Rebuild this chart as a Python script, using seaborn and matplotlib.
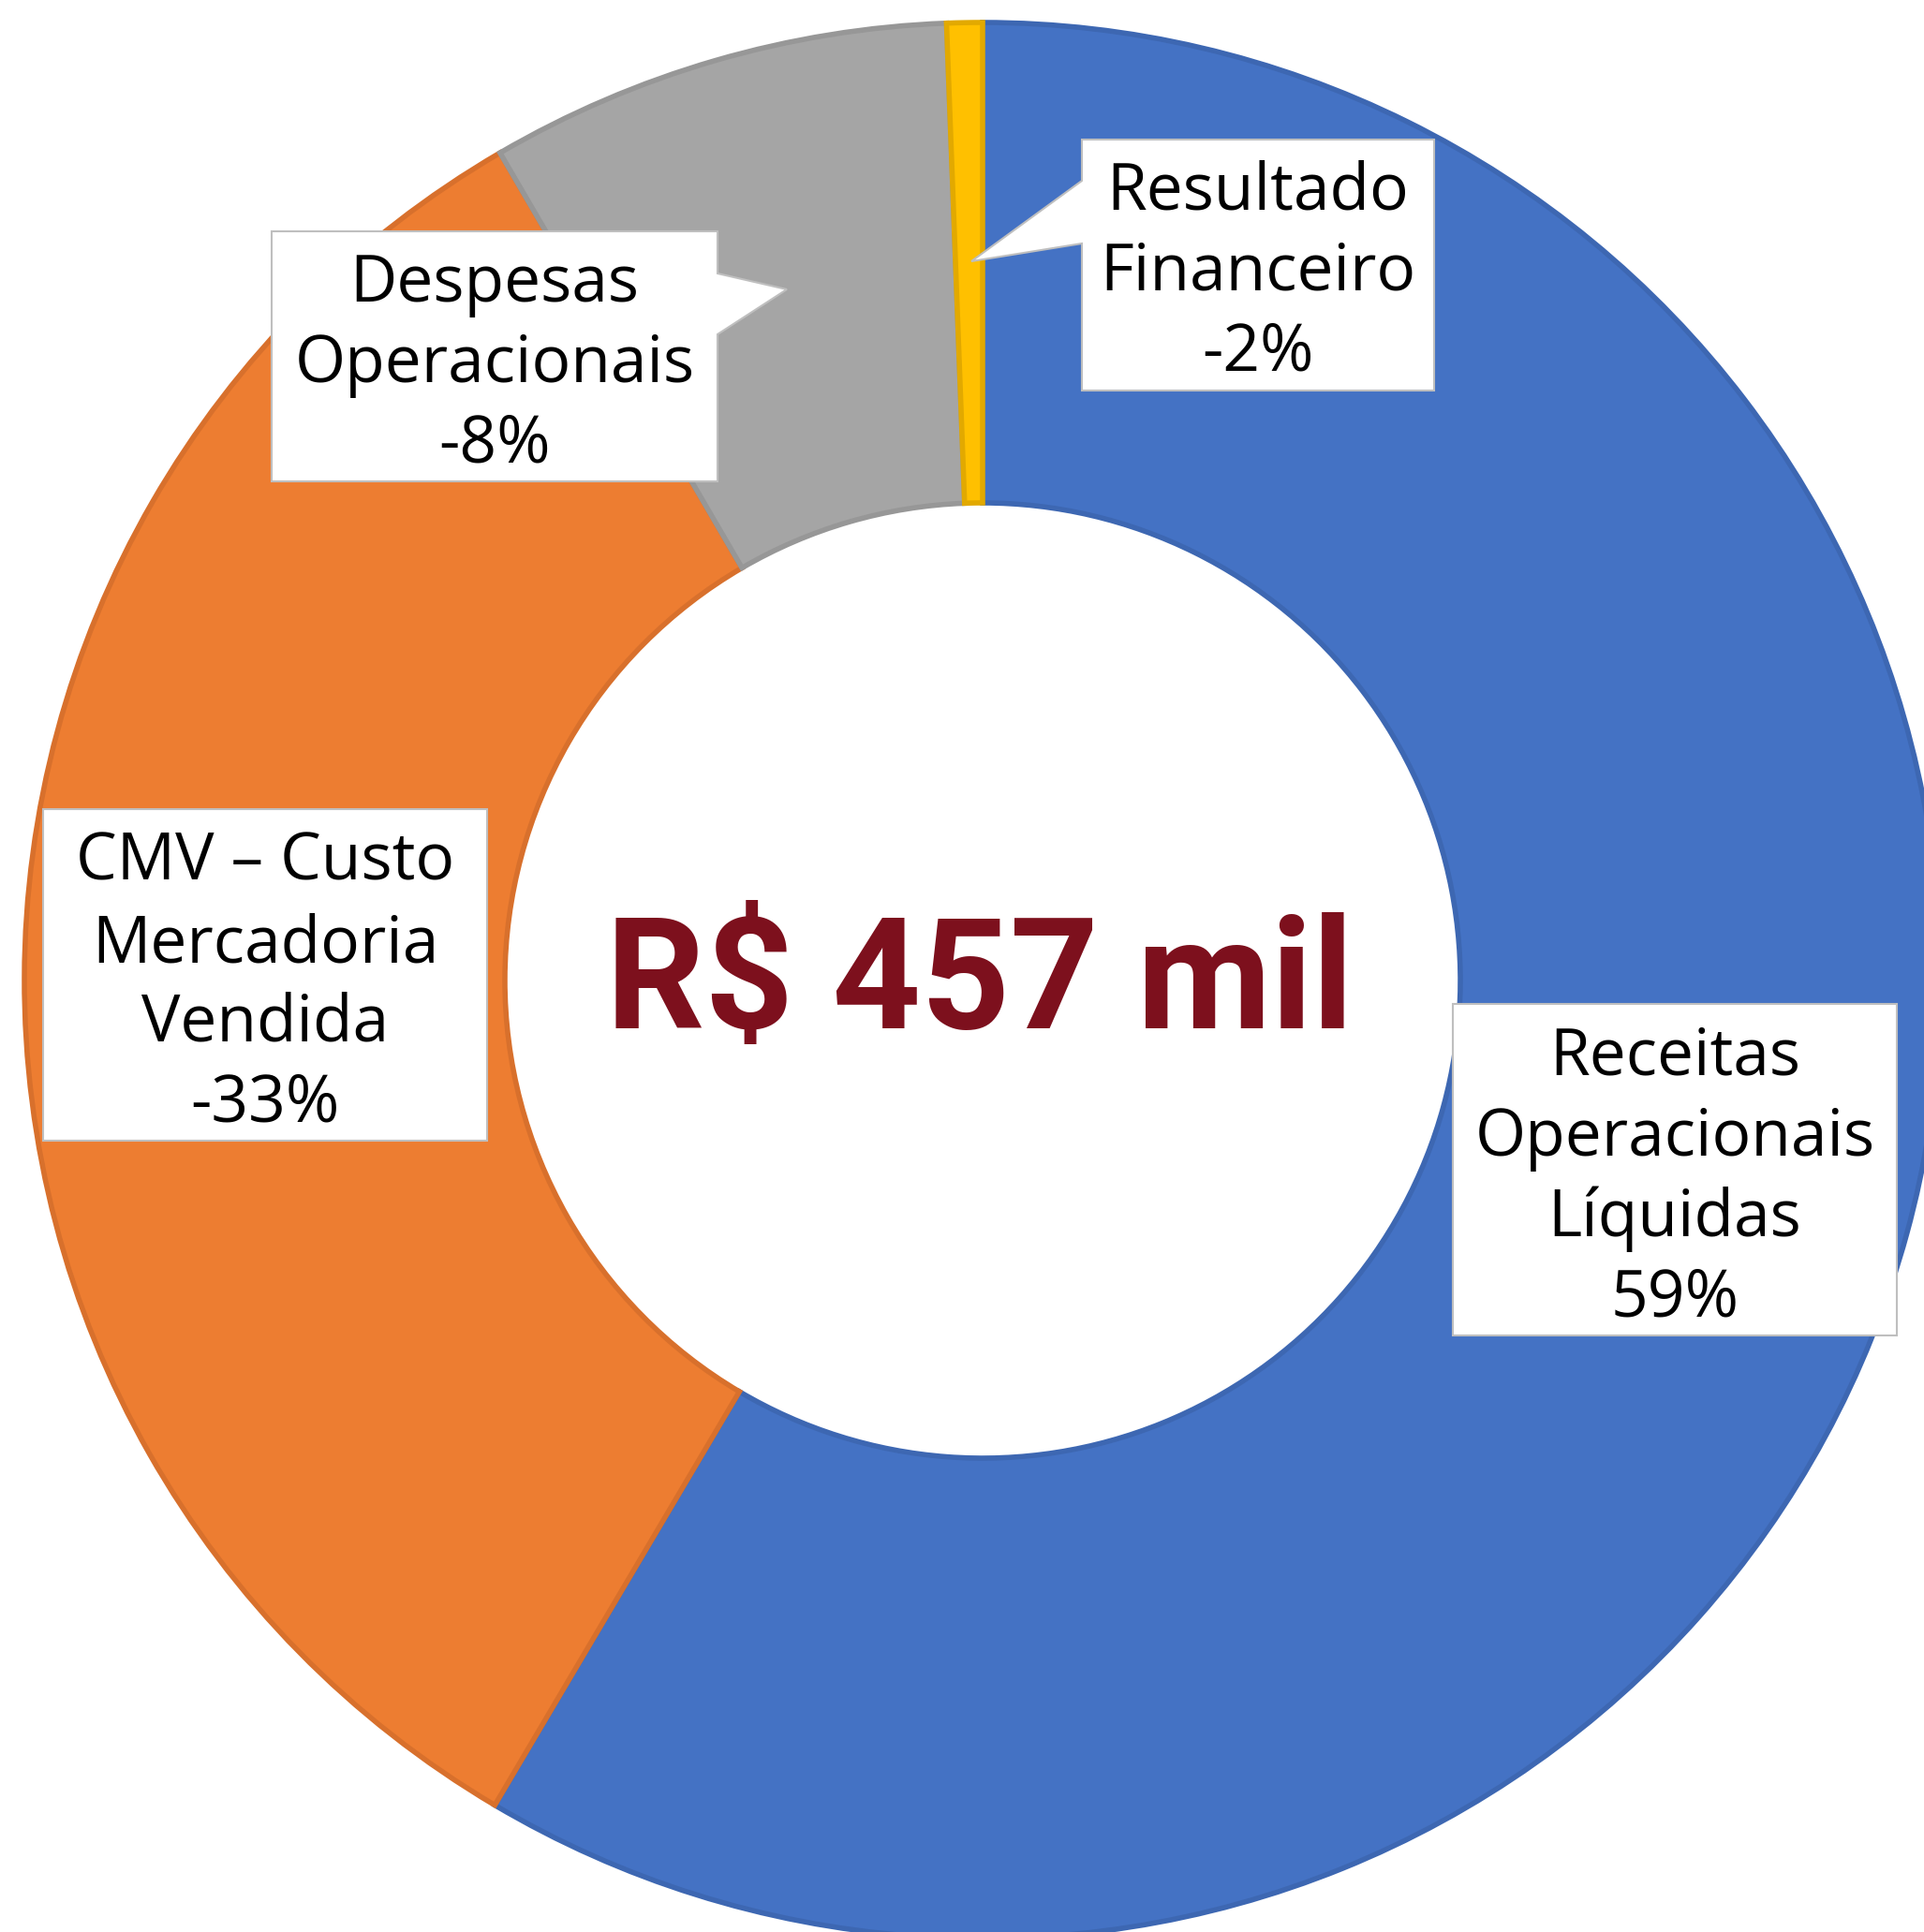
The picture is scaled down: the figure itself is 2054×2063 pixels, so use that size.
import matplotlib
matplotlib.use("Agg")
import matplotlib.pyplot as plt
from matplotlib.patches import Polygon
import seaborn as sns

# Donut data (wedge sizes) and the printed labels
categories = ["Receitas Operacionais Líquidas", "CMV – Custo Mercadoria Vendida",
              "Despesas Operacionais", "Resultado Financeiro"]
shares = [58.5, 33.1, 7.8, 0.6]
pct_labels = ["59%", "-33%", "-8%", "-2%"]
label_lines = [["Receitas", "Operacionais", "Líquidas"],
               ["CMV – Custo", "Mercadoria", "Vendida"],
               ["Despesas", "Operacionais"],
               ["Resultado", "Financeiro"]]
total_label = "R$ 457 mil"

colors = ["#4472C4", "#ED7D31", "#A5A5A5", "#FFC000"]
edge_colors = ["#3D67B2", "#D8702C", "#979797", "#E2A900"]

sns.set_theme(style="white")
plt.rcParams["font.family"] = ["Open Sans", "DejaVu Sans"]

# work in image pixels (y down)
W, H = 2054, 2063
fig = plt.figure(figsize=(W / 100, H / 100), dpi=100)
ax = fig.add_axes([0, 0, 1, 1])

wedges, _ = ax.pie(shares, colors=colors, startangle=-90, counterclock=True,
                   radius=1023, center=(1049, 1047),
                   wedgeprops=dict(width=513, linewidth=4))
for w, ec in zip(wedges, edge_colors):
    w.set_edgecolor(ec)

ax.set_xlim(0, W)
ax.set_ylim(H, 0)
ax.set_aspect("auto")
ax.axis("off")

# label boxes: (left, top, right, bottom), line baselines, optional callout pointer
layout = [
    dict(rect=(1551, 1072, 2025, 1426), base=[1148, 1234, 1320, 1405], ptr=None),
    dict(rect=(46, 864, 520, 1218), base=[940, 1027, 1112, 1197], ptr=None),
    dict(rect=(290, 247, 766, 514), base=[322, 408, 493], ptr=("right", 292, 357, (840, 309))),
    dict(rect=(1155, 149, 1531, 417), base=[223, 310, 395], ptr=("left", 193, 260, (1037, 279))),
]

for lines, pct, lay in zip(label_lines, pct_labels, layout):
    x0, y0, x1, y1 = lay["rect"]
    ptr = lay["ptr"]
    if ptr is None:
        pts = [(x0, y0), (x1, y0), (x1, y1), (x0, y1)]
    elif ptr[0] == "right":
        pts = [(x0, y0), (x1, y0), (x1, ptr[1]), ptr[3], (x1, ptr[2]), (x1, y1), (x0, y1)]
    else:
        pts = [(x0, y0), (x1, y0), (x1, y1), (x0, y1), (x0, ptr[2]), ptr[3], (x0, ptr[1])]
    ax.add_patch(Polygon(pts, closed=True, facecolor="white", edgecolor="#BFBFBF",
                         linewidth=1.5, zorder=5))
    cx = (x0 + x1) / 2
    for txt, yb in zip(lines + [pct], lay["base"]):
        ax.text(cx, yb, txt, ha="center", va="baseline", fontsize=50,
                color="black", zorder=6)

ax.text(1046, 1098, total_label, ha="center", va="baseline", fontsize=119,
        fontweight="bold", color="#7D101D", family=["Roboto", "DejaVu Sans"])

plt.savefig("out.png", dpi=100)
